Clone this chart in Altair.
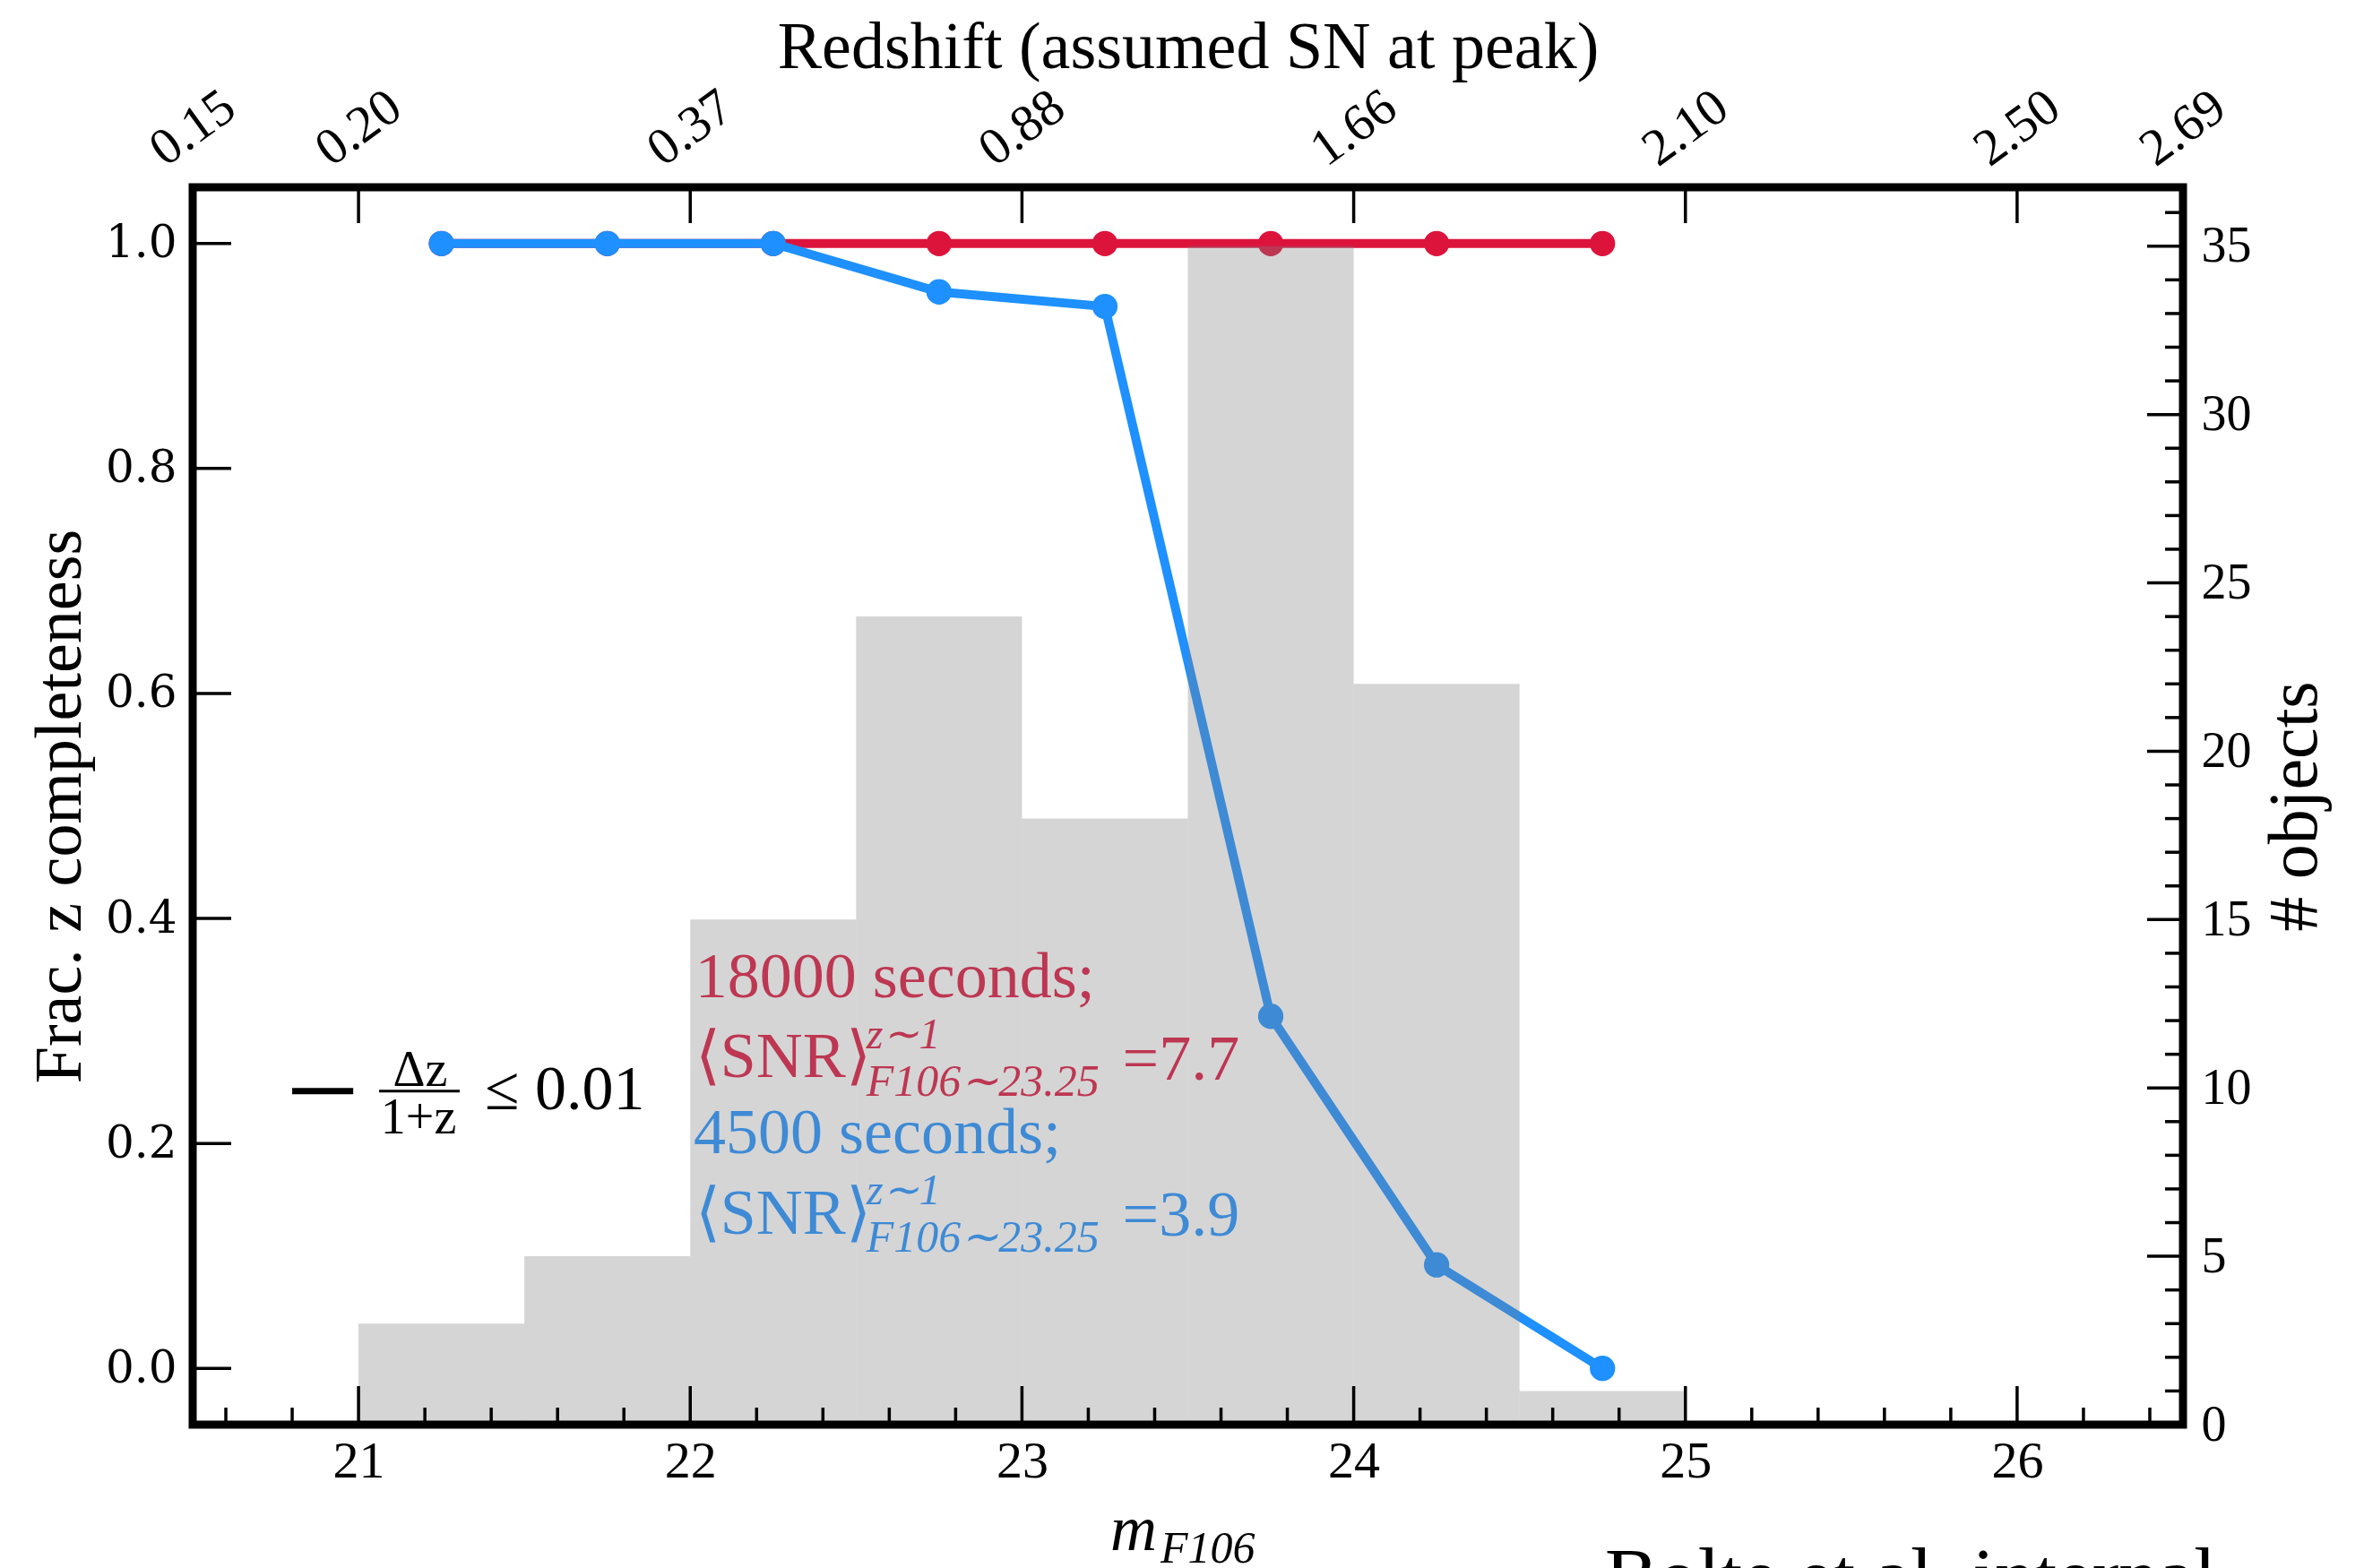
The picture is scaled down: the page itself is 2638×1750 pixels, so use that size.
import altair as alt
import pandas as pd

# ---------------- data ----------------
mag_centers = [21.25, 21.75, 22.25, 22.75, 23.25, 23.75, 24.25, 24.75]
frac_18000 = [1.0, 1.0, 1.0, 1.0, 1.0, 1.0, 1.0, 1.0]
frac_4500 = [1.0, 1.0, 1.0, 0.957, 0.944, 0.313, 0.092, 0.0]

hist_left = [21.0, 21.5, 22.0, 22.5, 23.0, 23.5, 24.0, 24.5]
hist_counts = [3, 5, 15, 24, 18, 35, 22, 1]
bin_width = 0.5

top_tick_mags = [20.5, 21, 22, 23, 24, 25, 26, 26.5]
top_tick_labels = ["0.15", "0.20", "0.37", "0.88", "1.66", "2.10", "2.50", "2.69"]

bottom_major = [21, 22, 23, 24, 25, 26]
bottom_minor = [round(20.6 + 0.2 * i, 1) for i in range(30)]
bottom_minor = [v for v in bottom_minor if abs(v - round(v)) > 1e-6 and v < 26.5]
left_major = [0.0, 0.2, 0.4, 0.6, 0.8, 1.0]
right_major = [0, 5, 10, 15, 20, 25, 30, 35]
right_minor = [v for v in range(1, 37) if v % 5 != 0]

# ---------------- style ----------------
W, H = 2221, 1381
FONT = "Liberation Serif"
RED = "#dc143c"
BLUE = "#1e90ff"

xscale = alt.Scale(domain=[20.5, 26.5], nice=False, zero=False)
yfrac = alt.Scale(domain=[-0.05, 1.05], nice=False, zero=False)
ycount = alt.Scale(domain=[0, 36.75], nice=False, zero=False)

df_red = pd.DataFrame({"m": mag_centers, "frac": frac_18000})
df_blue = pd.DataFrame({"m": mag_centers, "frac": frac_4500})
df_hist = pd.DataFrame({"lo": hist_left, "count": hist_counts})
df_hist["hi"] = df_hist["lo"] + bin_width

x_bottom_axis = alt.Axis(
    orient="bottom", values=bottom_major, format="d", ticks=False, domain=False,
    grid=False, labelFont=FONT, labelFontSize=58, labelPadding=12,
    labelColor="black", labelFlush=False, labelOverlap=False, title=None)

y_left_axis = alt.Axis(
    orient="left", values=left_major, format=".1f", ticks=False, domain=False,
    grid=False, labelFont="DejaVu Serif", labelFontSize=50, labelPadding=18,
    labelColor="black", labelOverlap=False, labelFlush=False,
    title="Frac. z completeness", titleFont=FONT, titleFontSize=74,
    titleFontWeight="normal", titleColor="black", titleAngle=270,
    titleX=-148, titleY=H / 2, titleAlign="center", titleBaseline="middle")

y_right_axis = alt.Axis(
    orient="right", values=right_major, format="d", ticks=False, domain=False,
    grid=False, labelFont=FONT, labelFontSize=56, labelPadding=20,
    labelColor="black", labelOverlap=False, labelFlush=False,
    title="# objects", titleFont=FONT, titleFontSize=78,
    titleFontWeight="normal", titleColor="black", titleAngle=270,
    titleX=125, titleY=H / 2, titleAlign="center", titleBaseline="middle")

label_expr = " : ".join(
    f"datum.value == {v} ? '{l}'" for v, l in zip(top_tick_mags, top_tick_labels)
) + " : ''"

x_top_axis = alt.Axis(
    orient="top", values=top_tick_mags, labelExpr=label_expr, labelAngle=324,
    labelAlign="center", labelBaseline="middle", labelPadding=66,
    labelFlush=False, labelOverlap=False, ticks=False, domain=False, grid=False,
    labelFont=FONT, labelFontSize=58, labelColor="black",
    title="Redshift (assumed SN at peak)", titleFont=FONT, titleFontSize=74,
    titleFontWeight="normal", titleColor="black", titleX=W / 2, titleY=-134,
    titleAlign="center", titleBaseline="alphabetic")


def XB(field):
    return alt.X(field, type="quantitative", scale=xscale, axis=x_bottom_axis)


def YL(field):
    return alt.Y(field, type="quantitative", scale=yfrac, axis=y_left_axis)


def XT(field):
    return alt.X(field, type="quantitative", scale=xscale, axis=x_top_axis)


def YR(field):
    return alt.Y(field, type="quantitative", scale=ycount, axis=y_right_axis)


# ---------------- annotations ----------------
annot_normal = pd.DataFrame([
    ("18000 seconds;", 22.015, 0.330, RED, 72),
    ("\u27e8SNR\u27e9", 22.015, 0.2594, RED, 72),
    ("=7.7", 23.303, 0.257, RED, 72),
    ("4500 seconds;", 22.010, 0.191, BLUE, 72),
    ("\u27e8SNR\u27e9", 22.015, 0.120, BLUE, 72),
    ("=3.9", 23.303, 0.1177, BLUE, 72),
    ("\u2264 0.01", 21.381, 0.2307, "black", 70),
], columns=["text", "x", "y", "color", "fs"])

annot_italic = pd.DataFrame([
    ("z\u223c1", 22.531, 0.2848, RED, 48),
    ("F106\u223c23.25", 22.531, 0.2426, RED, 50),
    ("z\u223c1", 22.531, 0.1456, BLUE, 48),
    ("F106\u223c23.25", 22.531, 0.1034, BLUE, 50),
], columns=["text", "x", "y", "color", "fs"])

annot_center = pd.DataFrame([
    ("\u0394z", 21.186, 0.2514, "black", 56),
    ("1+z", 21.181, 0.2092, "black", 56),
], columns=["text", "x", "y", "color", "fs"])

annot_rules = pd.DataFrame([
    (20.800, 20.984, 0.2466, 7),
    (21.062, 21.305, 0.2466, 3),
], columns=["x", "x2", "y", "sw"])

# ---------------- group A: fraction scale, bottom + left axes ----------------
red_line = alt.Chart(df_red).mark_line(color=RED, strokeWidth=10).encode(
    x=XB("m"), y=YL("frac"))
red_pts = alt.Chart(df_red).mark_circle(color=RED, size=800, opacity=1).encode(
    x=XB("m"), y=YL("frac"))
blue_line = alt.Chart(df_blue).mark_line(color=BLUE, strokeWidth=10).encode(
    x=XB("m"), y=YL("frac"))
blue_pts = alt.Chart(df_blue).mark_circle(color=BLUE, size=800, opacity=1).encode(
    x=XB("m"), y=YL("frac"))


def text_layer(df, align, style):
    return alt.Chart(df).mark_text(
        align=align, baseline="alphabetic", font=FONT, fontStyle=style
    ).encode(
        x=XB("x"), y=YL("y"),
        text="text:N",
        color=alt.Color("color:N", scale=None),
        size=alt.Size("fs:Q", scale=None),
    )


txt_normal = text_layer(annot_normal, "left", "normal")
txt_italic = text_layer(annot_italic, "left", "italic")
txt_center = text_layer(annot_center, "center", "normal")

rules_annot = alt.Chart(annot_rules).mark_rule(color="black").encode(
    x=XB("x"), x2="x2:Q", y=YL("y"),
    strokeWidth=alt.StrokeWidth("sw:Q", scale=None),
)

left_ticks = alt.Chart(pd.DataFrame({"v": left_major})).mark_rule(
    color="black", strokeWidth=3.5).encode(
    y=YL("v"), x=alt.value(0), x2=alt.value(43))

group_a = alt.layer(red_line, red_pts, blue_line, blue_pts,
                    txt_normal, txt_italic, txt_center, rules_annot, left_ticks)

# ---------------- group B: count scale, top + right axes ----------------
hist = alt.Chart(df_hist).mark_rect(color="#808080", opacity=0.33).encode(
    x=XT("lo"), x2="hi:Q", y=YR("count"), y2=alt.datum(0))
right_major_ticks = alt.Chart(pd.DataFrame({"v": right_major})).mark_rule(
    color="black", strokeWidth=3.5).encode(
    y=YR("v"), x=alt.value(W), x2=alt.value(W - 40))
right_minor_ticks = alt.Chart(pd.DataFrame({"v": right_minor})).mark_rule(
    color="black", strokeWidth=3.5).encode(
    y=YR("v"), x=alt.value(W), x2=alt.value(W - 20))
top_ticks = alt.Chart(pd.DataFrame({"v": top_tick_mags[1:-1]})).mark_rule(
    color="black", strokeWidth=3.5).encode(
    x=XT("v"), y=alt.value(0), y2=alt.value(40))
bottom_major_ticks = alt.Chart(pd.DataFrame({"v": bottom_major})).mark_rule(
    color="black", strokeWidth=3.5).encode(
    x=XT("v"), y=alt.value(H), y2=alt.value(H - 43))
bottom_minor_ticks = alt.Chart(pd.DataFrame({"v": bottom_minor})).mark_rule(
    color="black", strokeWidth=3.5).encode(
    x=XT("v"), y=alt.value(H), y2=alt.value(H - 19))

one = pd.DataFrame({"a": [0]})
frame = alt.Chart(one).mark_rect(fill=None, stroke="black", strokeWidth=9).encode(
    x=alt.value(0), x2=alt.value(W), y=alt.value(0), y2=alt.value(H))
m_label = alt.Chart(one).mark_text(
    text="m", font=FONT, fontStyle="italic", fontSize=72, align="left",
    baseline="alphabetic", color="black").encode(
    x=alt.value(1024), y=alt.value(1521))
m_sub = alt.Chart(one).mark_text(
    text="F106", font=FONT, fontStyle="italic", fontSize=50, align="left",
    baseline="alphabetic", color="black").encode(
    x=alt.value(1080), y=alt.value(1535))
credit = alt.Chart(one).mark_text(
    text="Bolte et al. internal", font=FONT, fontSize=89, align="left",
    baseline="alphabetic", color="black").encode(
    x=alt.value(1576), y=alt.value(1580))

group_b = alt.layer(hist, right_major_ticks, right_minor_ticks, top_ticks,
                    bottom_major_ticks, bottom_minor_ticks,
                    frame, m_label, m_sub, credit)

chart = (
    alt.layer(group_a, group_b)
    .resolve_scale(y="independent")
    .properties(
        width=W, height=H,
        autosize=alt.AutoSizeParams(type="none"),
        padding={"left": 215, "top": 209, "right": 202, "bottom": 160},
        background="white",
    )
    .configure_view(stroke=None)
)

chart.save("out.html", embed_options={"renderer": "svg", "actions": False})
